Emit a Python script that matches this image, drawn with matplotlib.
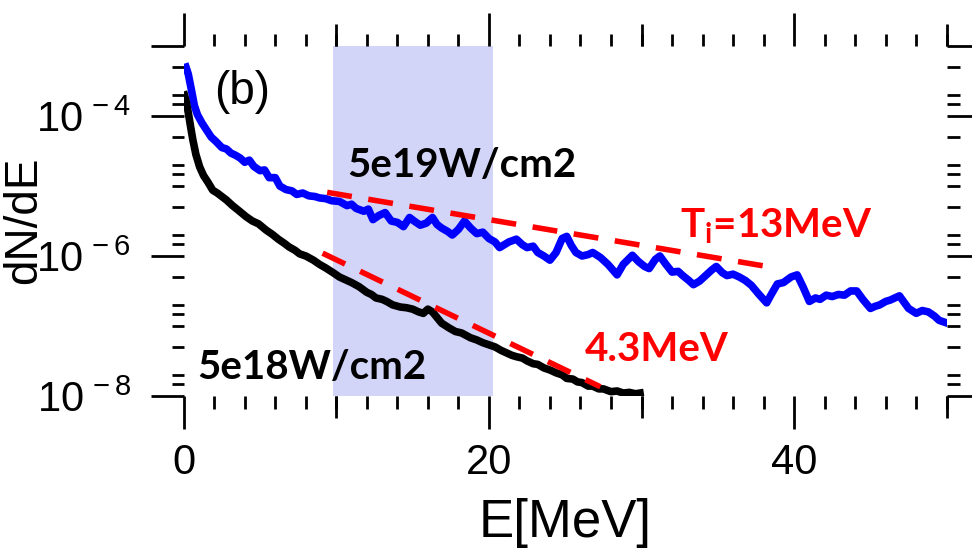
import matplotlib
matplotlib.use("Agg")
import matplotlib.pyplot as plt
import matplotlib.ticker as mticker
import numpy as np

plt.rcParams['font.family'] = ['Liberation Sans', 'DejaVu Sans']
plt.rcParams['mathtext.fontset'] = 'custom'
plt.rcParams['mathtext.rm'] = 'Liberation Sans'
plt.rcParams['mathtext.it'] = 'Liberation Sans:italic'
plt.rcParams['mathtext.bf'] = 'Liberation Sans:bold'

# spectra: energy [MeV] and log10(dN/dE)
E_hi = [0.15, 0.3, 0.5, 0.7, 0.9, 1.2, 1.5, 1.8, 2.1, 2.5, 2.8, 3.1, 3.4, 3.7, 4.0,
        4.3, 4.6, 5.0, 5.3, 5.6, 6.0, 6.3, 6.7, 7.1, 7.4, 7.8, 8.2, 8.6, 8.9, 9.3,
        9.7, 10.2, 10.7, 11.0, 11.3, 11.8, 12.1, 12.4, 12.8, 13.2, 13.6, 14.0, 14.4,
        14.8, 15.1, 15.5, 15.9, 16.3, 16.6, 16.9, 17.3, 17.6, 18.0, 18.4, 18.8, 19.2,
        19.6, 20.0, 20.4, 20.7, 21.0, 21.3, 21.8, 22.2, 22.5, 22.9, 23.2, 23.6, 24.0,
        24.4, 24.8, 25.1, 25.4, 25.7, 26.1, 26.5, 26.8, 27.3, 27.8, 28.4, 28.8, 29.4,
        29.8, 30.2, 30.5, 30.9, 31.2, 31.6, 32.0, 32.4, 32.7, 33.1, 33.4, 33.8, 34.2,
        34.6, 34.9, 35.3, 35.6, 36.0, 36.4, 36.8, 37.2, 37.7, 38.2, 38.5, 38.9, 39.3,
        39.8, 40.2, 40.6, 41.0, 41.4, 41.7, 42.1, 42.5, 42.9, 43.3, 43.7, 44.1, 44.5,
        45.0, 45.3, 45.6, 46.0, 46.3, 46.6, 46.9, 47.2, 47.5, 48.0, 48.4, 48.8, 49.2,
        49.5, 49.9]
logN_hi = [-3.30, -3.40, -3.62, -3.85, -3.98, -4.10, -4.20, -4.30, -4.36, -4.45, -4.47,
           -4.53, -4.56, -4.60, -4.66, -4.63, -4.72, -4.78, -4.77, -4.88, -4.88, -5.00,
           -5.05, -5.07, -5.12, -5.10, -5.14, -5.15, -5.17, -5.18, -5.21, -5.22, -5.28,
           -5.26, -5.32, -5.36, -5.33, -5.48, -5.42, -5.38, -5.50, -5.52, -5.58, -5.45,
           -5.50, -5.56, -5.53, -5.45, -5.55, -5.60, -5.65, -5.70, -5.62, -5.50, -5.60,
           -5.68, -5.66, -5.75, -5.80, -5.88, -5.84, -5.80, -5.76, -5.84, -5.88, -5.86,
           -5.95, -6.00, -6.06, -5.95, -5.75, -5.72, -5.85, -5.95, -6.00, -5.98, -5.95,
           -6.02, -6.12, -6.27, -6.12, -5.99, -6.08, -6.15, -6.18, -6.05, -6.00, -6.12,
           -6.23, -6.22, -6.28, -6.35, -6.41, -6.36, -6.28, -6.20, -6.15, -6.24, -6.28,
           -6.26, -6.30, -6.35, -6.42, -6.55, -6.67, -6.55, -6.40, -6.38, -6.30, -6.27,
           -6.45, -6.65, -6.60, -6.62, -6.56, -6.58, -6.55, -6.56, -6.50, -6.50, -6.62,
           -6.75, -6.72, -6.70, -6.65, -6.63, -6.60, -6.57, -6.66, -6.75, -6.82, -6.78,
           -6.80, -6.86, -6.92, -6.95]

E_lo = [0.05, 0.15, 0.3, 0.45, 0.6, 0.8, 1.05, 1.3, 1.6, 1.9, 2.2, 2.5, 2.8, 3.2, 3.6,
        4.1, 4.5, 4.9, 5.4, 5.8, 6.2, 6.6, 6.9, 7.3, 7.6, 8.0, 8.5, 8.9, 9.3, 9.8, 10.2,
        10.6, 11.0, 11.5, 12.0, 12.3, 12.6, 13.0, 13.3, 13.7, 14.2, 14.6, 15.0, 15.4,
        15.7, 16.0, 16.3, 16.6, 16.9, 17.4, 17.8, 18.2, 18.8, 19.2, 19.6, 20.0, 20.4,
        20.8, 21.1, 21.5, 21.8, 22.2, 22.5, 22.9, 23.2, 23.6, 24.0, 24.4, 24.8, 25.1,
        25.5, 25.8, 26.1, 26.5, 26.8, 27.2, 27.5, 28.0, 28.4, 28.8, 29.2, 29.6, 29.9]
logN_lo = [-3.70, -3.78, -3.95, -4.15, -4.34, -4.55, -4.73, -4.85, -4.95, -5.06, -5.10,
           -5.15, -5.20, -5.28, -5.35, -5.44, -5.50, -5.54, -5.63, -5.69, -5.76, -5.82,
           -5.87, -5.92, -5.97, -6.00, -6.06, -6.12, -6.17, -6.24, -6.30, -6.34, -6.38,
           -6.44, -6.52, -6.55, -6.60, -6.62, -6.65, -6.70, -6.73, -6.74, -6.76, -6.80,
           -6.82, -6.76, -6.80, -6.88, -6.96, -7.03, -7.08, -7.10, -7.17, -7.20, -7.24,
           -7.27, -7.30, -7.35, -7.38, -7.42, -7.44, -7.46, -7.50, -7.54, -7.55, -7.60,
           -7.63, -7.67, -7.70, -7.75, -7.76, -7.80, -7.81, -7.86, -7.86, -7.90, -7.90,
           -7.94, -7.93, -7.96, -7.95, -7.97, -7.96]

# exponential fits (end points)
fit_hi_E = [9.4, 38.5]
fit_hi_logN = [-5.09, -6.16]
fit_lo_E = [9.1, 27.3]
fit_lo_logN = [-5.96, -7.87]

band = (9.8, 20.3)

fig = plt.figure(figsize=(9.72, 5.56), dpi=100)
ax = fig.add_axes([0.189, 0.288, 0.785, 0.629])

ax.axvspan(band[0], band[1], color='#d3d5f8', lw=0, zorder=0)
ax.plot(E_hi, 10 ** np.array(logN_hi), color='#0000ff', lw=5.5, zorder=2,
        solid_joinstyle='round')
ax.plot(E_lo, 10 ** np.array(logN_lo), color='black', lw=5.5, zorder=2,
        solid_joinstyle='round')
ax.plot(fit_hi_E, 10 ** np.array(fit_hi_logN), color='#ff0000', lw=4,
        ls=(0, (4.5, 3)), zorder=3)
ax.plot(fit_lo_E, 10 ** np.array(fit_lo_logN), color='#ff0000', lw=4,
        ls=(0, (4.5, 3)), zorder=3)

ax.set_yscale('log')
ax.set_xlim(0, 50)
ax.set_ylim(1e-8, 1e-3)
for s in ax.spines.values():
    s.set_visible(False)

ax.set_xticks([0, 20, 40])
ax.set_xticks(np.arange(0, 51, 2), minor=True)
ax.set_yticks([1e-8, 1e-6, 1e-4, 1e-3])
ax.set_yticklabels([r'$10^{\,-8}$', r'$10^{\,-6}$', r'$10^{\,-4}$', ''])
ax.yaxis.set_minor_locator(mticker.LogLocator(base=10, subs=(1.5, 2, 5, 10), numticks=20))
ax.yaxis.set_minor_formatter(mticker.NullFormatter())
ax.tick_params(which='major', direction='out', length=24, width=2, labelsize=30,
               top=True, right=True, pad=10)
ax.tick_params(which='minor', direction='out', length=9, width=2,
               top=True, right=True)
ax.tick_params(axis='y', which='major', pad=14)

# medium ticks at 10, 30, 50
for loc in ('bottom', 'top'):
    sec = ax.secondary_xaxis(loc)
    sec.set_xticks([10, 30, 50])
    sec.tick_params(direction='out', length=16, width=2, labelbottom=False,
                    labeltop=False)
    sec.spines[loc].set_visible(False)

ax.set_xlabel('E[MeV]', fontsize=38, labelpad=11)
ax.set_ylabel('dN/dE', fontsize=33)
ax.yaxis.set_label_coords(-0.18, 0.503)

bold = dict(family=['Lato', 'DejaVu Sans'], fontweight='bold', fontsize=29,
            ha='center', va='center')
ax.text(3.8, 10 ** -3.66, '(b)', fontsize=33, ha='center', va='center')
ax.text(18.2, 10 ** -4.71, '5e19W/cm2', color='black', **bold)
ax.text(8.4, 10 ** -7.59, '5e18W/cm2', color='black', **bold)
ax.text(38.8, 10 ** -5.57, r'T$_\mathregular{i}$=13MeV', color='#ff0000', **bold)
ax.text(31.0, 10 ** -7.34, '4.3MeV', color='#ff0000', **bold)

fig.savefig('out.png', dpi=100)
